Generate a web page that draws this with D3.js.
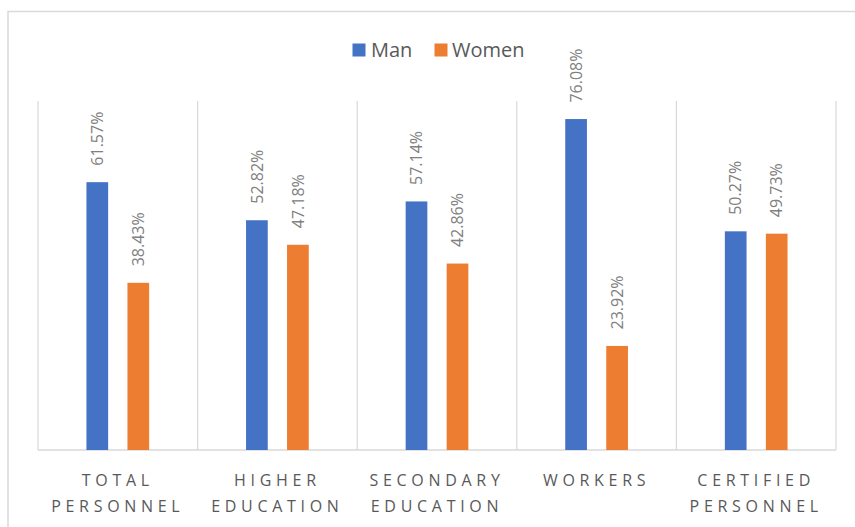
<!DOCTYPE html>
<html>
<head>
<meta charset="utf-8">
<script src="https://cdn.jsdelivr.net/npm/d3@7"></script>
<style>
  html, body { margin: 0; padding: 0; background: #fff; }
  svg { display: block; font-family: "Open Sans", "Noto Sans", sans-serif; }
</style>
</head>
<body>
<svg id="chart" width="855" height="527"></svg>
<script>
const categories = ["TOTAL PERSONNEL", "HIGHER EDUCATION", "SECONDARY EDUCATION", "WORKERS", "CERTIFIED PERSONNEL"];
const categoryLines = [["TOTAL", "PERSONNEL"], ["HIGHER", "EDUCATION"], ["SECONDARY", "EDUCATION"], ["WORKERS"], ["CERTIFIED", "PERSONNEL"]];
const seriesNames = ["Man", "Women"];
const manValues = [61.57, 52.82, 57.14, 76.08, 50.27];
const womenValues = [38.43, 47.18, 42.86, 23.92, 49.73];
const seriesColors = ["#4472C4", "#ED7D31"];

const svg = d3.select("#chart");

// chart border
svg.append("rect")
  .attr("x", 8).attr("y", 11.5)
  .attr("width", 900).attr("height", 600)
  .attr("fill", "none").attr("stroke", "#d9d9d9").attr("stroke-width", 1.5);

const plotLeft = 38, plotRight = 836, plotTop = 102, plotBottom = 450;

const x0 = d3.scaleBand().domain(categories).range([plotLeft, plotRight]).padding(0);
const y = d3.scaleLinear().domain([0, 80]).range([plotBottom, plotTop]);
const x1 = d3.scaleBand().domain(seriesNames).range([-31.35, 31.35]).paddingInner(0.471).paddingOuter(0);

// vertical category separators
const bounds = categories.map(c => x0(c)).concat([plotRight]);
svg.append("g").selectAll("line").data(bounds).join("line")
  .attr("x1", d => d).attr("x2", d => d)
  .attr("y1", plotTop - 1).attr("y2", plotBottom)
  .attr("stroke", "#d9d9d9").attr("stroke-width", 1.2);

// baseline
svg.append("line")
  .attr("x1", plotLeft).attr("x2", plotRight)
  .attr("y1", plotBottom).attr("y2", plotBottom)
  .attr("stroke", "#d9d9d9").attr("stroke-width", 1.5);

const data = categories.map((c, i) => ({
  cat: c,
  vals: [{s: "Man", v: manValues[i]}, {s: "Women", v: womenValues[i]}]
}));

const groups = svg.append("g").selectAll("g").data(data).join("g")
  .attr("transform", d => `translate(${x0(d.cat) + x0.bandwidth() / 2},0)`);

groups.selectAll("rect").data(d => d.vals).join("rect")
  .attr("x", d => x1(d.s))
  .attr("width", x1.bandwidth())
  .attr("y", d => y(d.v))
  .attr("height", d => plotBottom - y(d.v))
  .attr("fill", (d, i) => seriesColors[i]);

groups.selectAll("text.lbl").data(d => d.vals).join("text")
  .attr("class", "lbl")
  .attr("transform", d => `translate(${x1(d.s) + x1.bandwidth() / 2},${y(d.v) - 16.5}) rotate(-90)`)
  .attr("dy", "0.36em")
  .attr("text-anchor", "start")
  .attr("font-size", 16)
  .attr("fill", "#808080")
  .text(d => d.v.toFixed(2) + "%");

// category labels
const catG = svg.append("g");
categories.forEach((c, i) => {
  const t = catG.append("text")
    .attr("x", x0(c) + x0.bandwidth() / 2)
    .attr("y", 486)
    .attr("text-anchor", "middle")
    .attr("font-size", 16)
    .attr("letter-spacing", "4.7px")
    .attr("fill", "#595959");
  categoryLines[i].forEach((line, j) => {
    t.append("tspan")
      .attr("x", x0(c) + x0.bandwidth() / 2)
      .attr("dy", j === 0 ? 0 : 26)
      .text(line);
  });
});

// legend
const legendItems = [
  {name: seriesNames[0], color: seriesColors[0], sx: 352.5, tx: 371},
  {name: seriesNames[1], color: seriesColors[1], sx: 434.5, tx: 452}
];
const lg = svg.append("g");
legendItems.forEach(it => {
  lg.append("rect").attr("x", it.sx).attr("y", 43.5).attr("width", 13).attr("height", 13).attr("fill", it.color);
  lg.append("text").attr("x", it.tx).attr("y", 57).attr("font-size", 20).attr("fill", "#595959").text(it.name);
});
</script>
</body>
</html>
